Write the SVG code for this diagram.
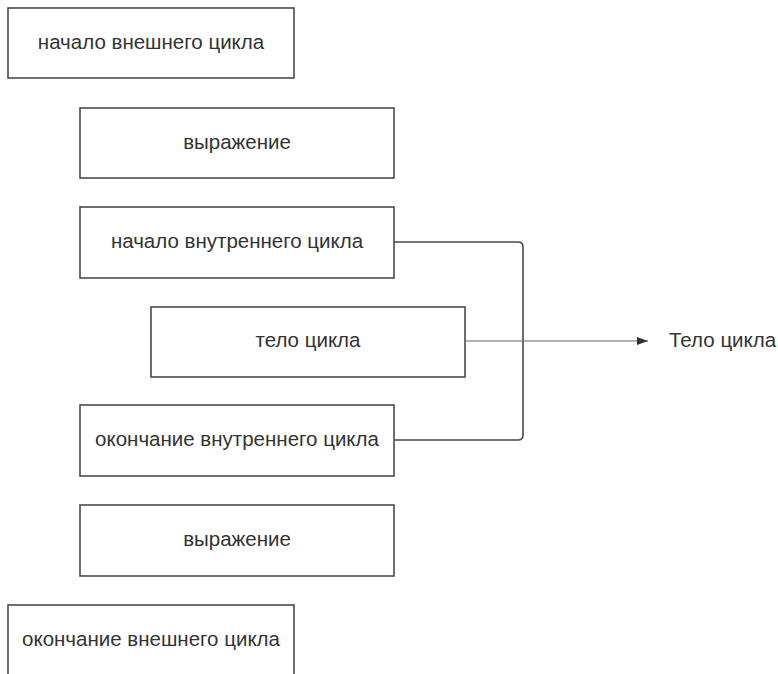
<svg xmlns="http://www.w3.org/2000/svg" width="778" height="674" viewBox="0 0 778 674">
<style>
.box{fill:#fff;stroke:#4a4a4a;stroke-width:1.6}
.lbl{font-family:"Liberation Sans",Arial,sans-serif;font-size:20.5px;fill:#333;text-anchor:middle;dominant-baseline:central}
.conn{fill:none;stroke:#4a4a4a;stroke-width:1.6}
.thin{fill:none;stroke:#666;stroke-width:1}
</style>
<defs>
<marker id="arr" markerWidth="12" markerHeight="8" refX="11" refY="4" orient="auto" markerUnits="userSpaceOnUse">
<path d="M0,0 L11,4 L0,8 Z" fill="#333"/>
</marker>
</defs>
<rect width="778" height="674" fill="#fff"/>
<g id="n1"><rect class="box" x="8" y="8" width="286" height="70"/><text class="lbl" x="151" y="41">начало внешнего цикла</text></g>
<g id="n2"><rect class="box" x="80" y="108" width="314" height="70"/><text class="lbl" x="237" y="141">выражение</text></g>
<g id="n3"><rect class="box" x="80" y="207" width="314" height="71"/><text class="lbl" x="237" y="240">начало внутреннего цикла</text></g>
<g id="n4"><rect class="box" x="151" y="307" width="314" height="70"/><text class="lbl" x="308" y="339">тело цикла</text></g>
<g id="n5"><rect class="box" x="80" y="405" width="314" height="71"/><text class="lbl" x="237" y="438">окончание внутреннего цикла</text></g>
<g id="n6"><rect class="box" x="80" y="505" width="314" height="71"/><text class="lbl" x="237" y="538">выражение</text></g>
<g id="n7"><rect class="box" x="8" y="605" width="286" height="80"/><text class="lbl" x="151" y="638">окончание внешнего цикла</text></g>
<g id="connectors">
<path class="conn" d="M394,242 H518 Q523,242 523,247 V435 Q523,440 518,440 H394"/>
<path class="thin" d="M465,341 H523" />
<path class="thin" d="M523,341 H648" marker-end="url(#arr)"/>
<text class="lbl" x="669" y="339" style="text-anchor:start">Тело цикла</text>
</g>
</svg>
